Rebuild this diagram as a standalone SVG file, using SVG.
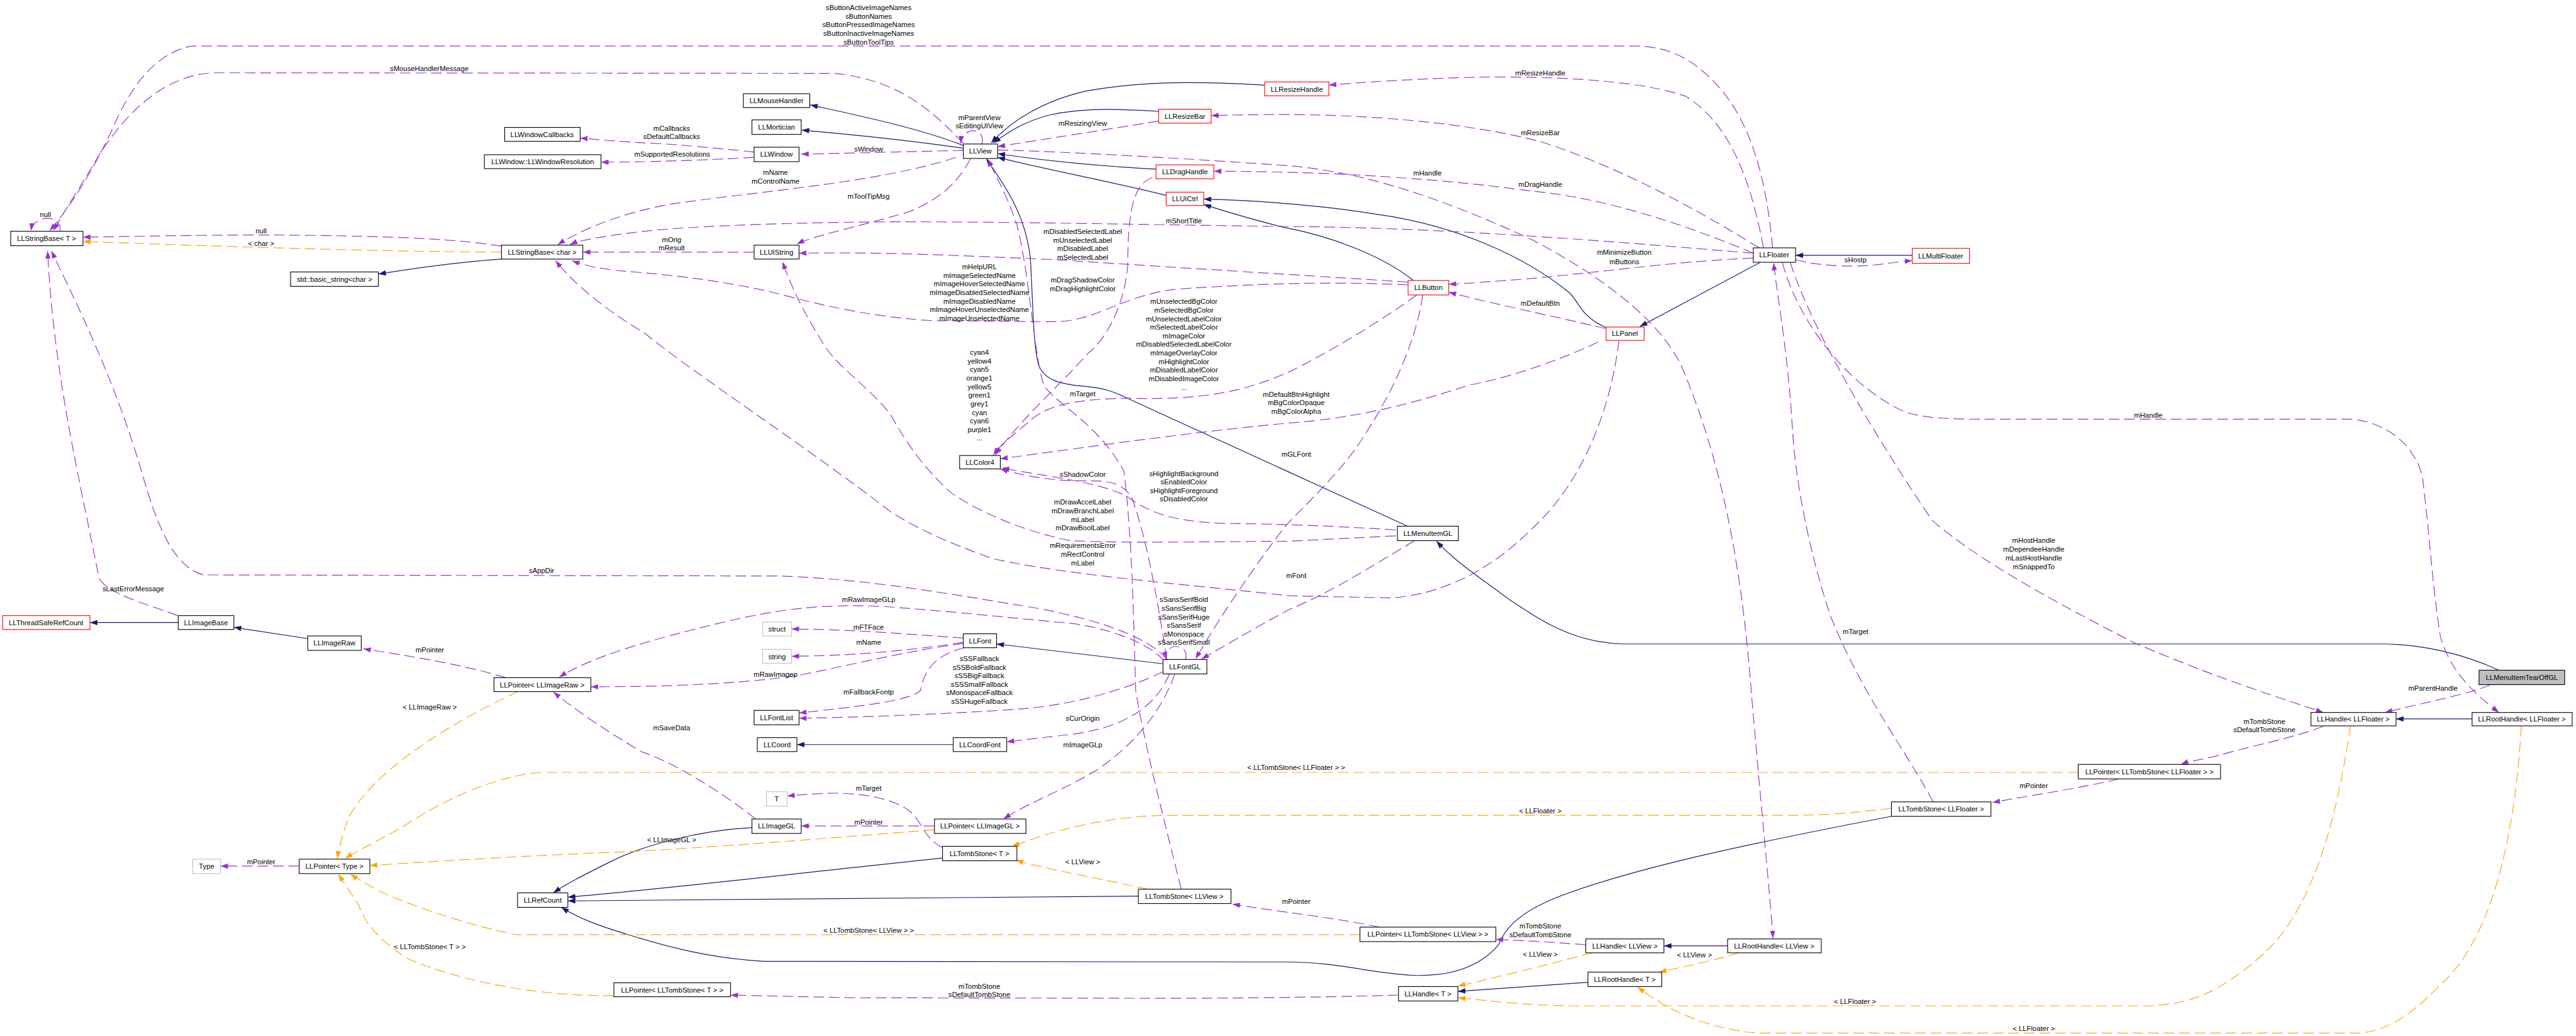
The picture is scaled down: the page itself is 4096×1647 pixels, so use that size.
<svg xmlns="http://www.w3.org/2000/svg" width="4096" height="1647" viewBox="0 0 4096 1647">
<style>
text{font-family:"Liberation Sans",Arial,Helvetica,sans-serif;font-size:13.3px;fill:#000;text-anchor:middle}
.node rect{fill:#fff;stroke:#000;stroke-width:1.3}
.node.red rect{stroke:#ff0000}
.node.grey rect{stroke:#bfbfbf}
.node.cur rect{fill:#bfbfbf}
#edges path{fill:none;stroke-width:1.4}
#edges .inh{stroke:#191970;marker-end:url(#an)}
#edges .use{stroke:#9a32cd;stroke-dasharray:20 9;marker-end:url(#ap)}
#edges .tpl{stroke:#ffa500;stroke-dasharray:20 9;marker-end:url(#ao)}
</style>
<defs>
<marker id="an" markerUnits="userSpaceOnUse" markerWidth="14" markerHeight="10" viewBox="0 0 14 10" refX="14" refY="5" orient="auto"><path d="M0,0 L14,5 L0,10 z" fill="#191970" stroke="none"/></marker>
<marker id="ap" markerUnits="userSpaceOnUse" markerWidth="14" markerHeight="10" viewBox="0 0 14 10" refX="14" refY="5" orient="auto"><path d="M0,0 L14,5 L0,10 z" fill="#9a32cd" stroke="none"/></marker>
<marker id="ao" markerUnits="userSpaceOnUse" markerWidth="14" markerHeight="10" viewBox="0 0 14 10" refX="14" refY="5" orient="auto"><path d="M0,0 L14,5 L0,10 z" fill="#ffa500" stroke="none"/></marker>
</defs>
<rect width="4096" height="1647" fill="#fff"/>
<g transform="scale(0.851)">
<g id="edges">
<!-- inheritance -->
<path class="inh" d="M1800,272 C1720,240 1600,215 1514,196"/>
<path class="inh" d="M1800,277 C1700,262 1600,252 1498,243"/>
<path class="inh" d="M2363,159 C2280,154 2150,148 2030,170 C1950,188 1890,225 1852,267"/>
<path class="inh" d="M2165,208 C2100,204 2030,200 1960,215 C1910,228 1880,250 1856,267"/>
<path class="inh" d="M2160,316 C2050,310 1950,300 1864,287"/>
<path class="inh" d="M2179,365 C2080,340 1960,318 1864,294"/>
<path class="inh" d="M2641,524 C2580,475 2480,440 2400,425 C2340,410 2290,395 2249,382"/>
<path class="inh" d="M3001,612 C2950,590 2950,560 2930,545 C2850,480 2720,420 2570,400 C2480,385 2350,374 2249,372"/>
<path class="inh" d="M3289,490 L3064,610"/>
<path class="inh" d="M3573,477 L3355,477"/>
<path class="inh" d="M2630,983 L2115,748 C2080,730 2060,725 2030,722 C1980,718 1950,710 1940,680 C1930,640 1930,560 1925,480 C1915,400 1880,350 1843,297"/>
<path class="inh" d="M4669,1252 C4600,1220 4520,1203 4449,1203 L3031,1203 C2940,1200 2880,1160 2820,1120 C2760,1075 2720,1050 2684,1011"/>
<path class="inh" d="M2173,1240 L1862,1203"/>
<path class="inh" d="M1781,1391 L1489,1391"/>
<path class="inh" d="M333,1163 L168,1163"/>
<path class="inh" d="M575,1193 L437,1172"/>
<path class="inh" d="M937,484 C850,490 780,500 707,512"/>
<path class="inh" d="M1405,1546 C1300,1552 1200,1580 1140,1610 C1090,1635 1060,1650 1034,1668"/>
<path class="inh" d="M1761,1603 C1500,1630 1250,1660 1061,1676"/>
<path class="inh" d="M2127,1674 L1061,1683"/>
<path class="inh" d="M3534,1525 C3300,1570 3050,1620 2900,1680 C2830,1710 2810,1740 2800,1765 C2770,1800 2720,1825 2640,1822 C2560,1818 2500,1797 2400,1797 L1428,1796 C1330,1790 1250,1770 1180,1748 C1120,1730 1080,1715 1049,1695"/>
<path class="inh" d="M3228,1767 L3109,1767"/>
<path class="inh" d="M2967,1835 L2724,1852"/>
<path class="inh" d="M4619,1343 L4477,1343"/>
<!-- template instantiation -->
<path class="tpl" d="M937,471 C700,470 400,460 155,451"/>
<path class="tpl" d="M968,1292 C820,1360 690,1450 650,1530 C640,1560 633,1585 630,1604"/>
<path class="tpl" d="M1746,1550 C1500,1570 1300,1585 1150,1592 C950,1600 800,1610 691,1617"/>
<path class="tpl" d="M3883,1443 L1010,1443 C920,1450 820,1500 760,1540 C700,1575 665,1590 645,1604"/>
<path class="tpl" d="M2541,1746 L965,1746 C880,1730 760,1690 700,1660 C680,1648 665,1640 655,1633"/>
<path class="tpl" d="M1147,1860 C1000,1862 850,1830 760,1790 C700,1750 680,1720 670,1690 C650,1660 640,1645 632,1633"/>
<path class="tpl" d="M2145,1661 C2050,1640 1960,1625 1898,1607"/>
<path class="tpl" d="M3534,1510 C3450,1520 3400,1523 3350,1523 L2195,1523 C2050,1523 1950,1560 1891,1581"/>
<path class="tpl" d="M2975,1780 C2900,1800 2800,1825 2724,1842"/>
<path class="tpl" d="M3249,1780 C3200,1795 3150,1805 3100,1816"/>
<path class="tpl" d="M4392,1356 C4370,1500 4330,1700 4220,1790 C4150,1850 4100,1875 4017,1879 L2940,1879 C2860,1879 2790,1870 2724,1864"/>
<path class="tpl" d="M4711,1356 C4700,1550 4660,1750 4560,1840 C4500,1900 4460,1925 4410,1930 L3287,1930 C3200,1925 3120,1890 3060,1844"/>
<!-- usage -->
<path class="use" d="M1800,268 C1740,205 1680,150 1560,137 L400,136 C300,140 230,220 185,290 C150,350 122,390 100,431"/>
<path class="use" d="M3312,463 C3300,330 3270,220 3200,150 C3160,110 3120,88 3060,86 L360,86 C300,95 250,150 215,230 C170,330 120,400 93,431"/>
<path class="use" d="M112,432 C118,400 62,400 58,431"/>
<path class="use" d="M937,460 C850,445 700,440 500,439 C350,439 250,442 155,443"/>
<path class="use" d="M332,1150 C280,1130 200,1110 185,1080 C150,900 100,700 89,469"/>
<path class="use" d="M2180,1232 C2140,1180 2000,1145 1900,1130 C1750,1105 1600,1080 1450,1076 L380,1074 C330,1060 300,1000 270,900 C220,720 140,560 96,469"/>
<path class="use" d="M1786,294 C1650,340 1400,360 1300,375 C1200,385 1100,420 1042,457"/>
<path class="use" d="M3276,473 C3000,450 2700,425 2400,423 C2200,421 1800,412 1600,415 C1400,418 1250,425 1180,435 C1120,442 1080,450 1065,457"/>
<path class="use" d="M1409,471 L1089,471"/>
<path class="use" d="M2631,532 C2500,527 2400,527 2200,540 C2100,550 2050,600 1972,601 L1740,599 C1600,590 1500,560 1431,543 C1300,515 1200,510 1150,505 C1110,500 1090,495 1069,487"/>
<path class="use" d="M3025,636 C3010,760 2960,900 2860,990 C2790,1060 2700,1110 2600,1117 L2410,1113 C2200,1090 2000,1075 1856,1044 C1760,1010 1700,980 1663,955 C1500,830 1300,700 1204,622 C1150,590 1080,540 1038,487"/>
<path class="use" d="M2631,527 C2400,512 2200,500 1972,485 C1800,478 1650,470 1493,473"/>
<path class="use" d="M1813,297 C1790,340 1760,370 1700,395 C1600,425 1520,440 1489,456"/>
<path class="use" d="M2608,1001 L2410,1011 C2250,1012 2100,1015 2000,1010 C1900,990 1820,950 1779,922 C1720,870 1690,820 1663,773 C1620,720 1570,690 1540,645 C1500,580 1480,540 1462,489"/>
<path class="use" d="M1800,281 C1700,283 1600,286 1497,288"/>
<path class="use" d="M1409,284 C1350,278 1250,268 1204,267 C1150,264 1110,260 1084,258"/>
<path class="use" d="M1409,294 C1300,300 1200,303 1123,303"/>
<path class="use" d="M1835,269 C1842,236 1798,236 1795,268"/>
<path class="use" d="M2165,226 C2050,245 1950,260 1864,274"/>
<path class="use" d="M3295,463 C3270,330 3230,230 3150,180 C3050,145 2850,140 2700,146 C2600,150 2530,155 2483,159"/>
<path class="use" d="M3287,463 C3200,410 3050,320 2880,265 C2740,228 2550,214 2400,214 C2340,214 2300,215 2263,216"/>
<path class="use" d="M3276,473 C3150,420 3000,370 2863,357 C2700,335 2500,320 2268,320"/>
<path class="use" d="M1864,280 C2000,284 2200,295 2400,309 C2550,320 2700,373 2863,448 C3000,520 3100,600 3140,680 C3200,820 3250,1000 3272,1290 C3290,1500 3305,1650 3313,1753"/>
<path class="use" d="M3276,482 C3100,490 2950,515 2800,525 C2760,528 2730,530 2707,531"/>
<path class="use" d="M3001,614 C2900,590 2800,570 2707,546"/>
<path class="use" d="M3355,485 C3400,498 3470,500 3520,493 C3540,490 3560,488 3573,487"/>
<path class="use" d="M2647,551 C2580,600 2480,660 2410,694 C2330,730 2250,748 2110,744 C2000,745 1950,760 1920,790 C1890,815 1870,830 1856,850"/>
<path class="use" d="M2153,332 C2115,345 2108,400 2107,497 C2100,580 2060,640 2033,660 C1980,720 1900,790 1860,850"/>
<path class="use" d="M2986,639 C2900,680 2800,710 2747,719 C2650,750 2550,780 2400,791 C2200,810 2000,840 1869,857"/>
<path class="use" d="M2608,990 C2500,983 2400,979 2300,978 C2200,976 2150,960 2110,930 C2060,900 1950,890 1872,874"/>
<path class="use" d="M2180,1232 C2160,1100 2140,1000 2115,930 C2090,890 2050,900 2000,898 C1940,895 1900,885 1869,876"/>
<path class="use" d="M2658,551 C2650,620 2610,720 2554,806 C2510,880 2440,940 2400,985 C2350,1050 2280,1150 2234,1231"/>
<path class="use" d="M2643,1010 C2560,1060 2480,1110 2410,1138 C2350,1170 2300,1200 2245,1231"/>
<path class="use" d="M2215,1232 C2225,1200 2170,1200 2180,1231"/>
<path class="use" d="M2175,1235 C2150,1200 2050,1165 1972,1162 C1850,1150 1750,1140 1650,1133 C1500,1125 1400,1150 1300,1175 C1200,1200 1100,1230 1045,1265"/>
<path class="use" d="M1800,1192 C1700,1185 1600,1176 1479,1175"/>
<path class="use" d="M1800,1200 C1700,1215 1600,1225 1479,1226"/>
<path class="use" d="M1800,1202 C1700,1215 1600,1240 1500,1260 C1400,1277 1250,1283 1104,1283"/>
<path class="use" d="M1802,1210 C1740,1225 1725,1260 1720,1290 C1700,1310 1600,1320 1493,1332"/>
<path class="use" d="M2173,1255 C2100,1290 2000,1318 1900,1325 C1750,1335 1600,1340 1493,1342"/>
<path class="use" d="M2185,1259 C2160,1320 2100,1360 2000,1372 C1950,1378 1910,1382 1881,1386"/>
<path class="use" d="M2195,1259 C2170,1330 2120,1390 2050,1438 C1980,1480 1920,1500 1875,1530"/>
<path class="use" d="M1412,1530 C1350,1480 1250,1420 1200,1405 C1140,1370 1080,1330 1034,1293"/>
<path class="use" d="M1746,1543 L1497,1543"/>
<path class="use" d="M1761,1583 C1730,1570 1725,1540 1702,1517 C1670,1490 1600,1480 1547,1482 C1520,1483 1490,1485 1471,1487"/>
<path class="use" d="M945,1266 C860,1240 760,1225 679,1212"/>
<path class="use" d="M559,1618 L412,1618"/>
<path class="use" d="M2613,1859 C2500,1862 2400,1864 2200,1865 L1600,1864 C1500,1862 1420,1860 1365,1859"/>
<path class="use" d="M2963,1765 C2900,1760 2850,1757 2795,1755"/>
<path class="use" d="M4341,1357 C4280,1380 4200,1395 4150,1410 C4120,1418 4090,1422 4075,1428"/>
<path class="use" d="M3959,1455 C3900,1470 3800,1485 3723,1499"/>
<path class="use" d="M2577,1732 C2500,1715 2400,1705 2303,1689"/>
<path class="use" d="M3612,1498 C3560,1400 3480,1300 3420,1150 C3380,1030 3355,900 3349,800 C3340,650 3320,550 3314,491"/>
<path class="use" d="M3330,490 C3360,600 3450,720 3560,770 C3600,782 3650,783 3700,783 L4395,783 C4460,790 4510,830 4526,889 C4540,1000 4545,1100 4560,1190 C4580,1260 4630,1300 4669,1331"/>
<path class="use" d="M3345,490 C3380,600 3480,780 3610,972 C3700,1050 3850,1130 3986,1200 C4150,1270 4250,1300 4341,1331"/>
<path class="use" d="M4653,1279 C4620,1295 4540,1310 4456,1331"/>
<path class="use" d="M2207,1661 C2180,1550 2140,1400 2122,1290 C2118,1150 2115,1000 2100,880 C2050,790 1980,760 1950,720 C1930,650 1925,520 1900,420 C1880,360 1860,330 1846,297"/>
</g>
<g id="labels">
<text x="1623" y="19">sButtonActiveImageNames</text>
<text x="1623" y="35">sButtonNames</text>
<text x="1623" y="51">sButtonPressedImageNames</text>
<text x="1623" y="67">sButtonInactiveImageNames</text>
<text x="1623" y="83">sButtonToolTips</text>
<text x="802" y="133">sMouseHandlerMessage</text>
<text x="85" y="405">null</text>
<text x="488" y="436">null</text>
<text x="488" y="460">&lt; char &gt;</text>
<text x="1830" y="225">mParentView</text>
<text x="1830" y="240">sEditingUIView</text>
<text x="2023" y="235">mResizingView</text>
<text x="1255" y="244">mCallbacks</text>
<text x="1255" y="260">sDefaultCallbacks</text>
<text x="1256" y="293">mSupportedResolutions</text>
<text x="1623" y="283">sWindow</text>
<text x="1449" y="327">mName</text>
<text x="1449" y="343">mControlName</text>
<text x="1623" y="371">mToolTipMsg</text>
<text x="2212" y="417">mShortTitle</text>
<text x="1255" y="452">mOrig</text>
<text x="1255" y="468">mResult</text>
<text x="2023" y="437">mDisabledSelectedLabel</text>
<text x="2023" y="453">mUnselectedLabel</text>
<text x="2023" y="469">mDisabledLabel</text>
<text x="2023" y="485">mSelectedLabel</text>
<text x="1830" y="503">mHelpURL</text>
<text x="1830" y="519">mImageSelectedName</text>
<text x="1830" y="535">mImageHoverSelectedName</text>
<text x="1830" y="551">mImageDisabledSelectedName</text>
<text x="1830" y="567">mImageDisabledName</text>
<text x="1830" y="583">mImageHoverUnselectedName</text>
<text x="1830" y="599">mImageUnselectedName</text>
<text x="2023" y="528">mDragShadowColor</text>
<text x="2023" y="544">mDragHighlightColor</text>
<text x="2212" y="568">mUnselectedBgColor</text>
<text x="2212" y="584">mSelectedBgColor</text>
<text x="2212" y="600">mUnselectedLabelColor</text>
<text x="2212" y="616">mSelectedLabelColor</text>
<text x="2212" y="632">mImageColor</text>
<text x="2212" y="648">mDisabledSelectedLabelColor</text>
<text x="2212" y="664">mImageOverlayColor</text>
<text x="2212" y="680">mHighlightColor</text>
<text x="2212" y="696">mDisabledLabelColor</text>
<text x="2212" y="712">mDisabledImageColor</text>
<text x="2212" y="728">...</text>
<text x="2878" y="141">mResizeHandle</text>
<text x="2878" y="253">mResizeBar</text>
<text x="2667" y="328">mHandle</text>
<text x="2878" y="349">mDragHandle</text>
<text x="3035" y="476">mMinimizeButton</text>
<text x="3035" y="493">mButtons</text>
<text x="3467" y="490">sHostp</text>
<text x="2878" y="571">mDefaultBtn</text>
<text x="1830" y="663">cyan4</text>
<text x="1830" y="679">yellow4</text>
<text x="1830" y="695">cyan5</text>
<text x="1830" y="711">orange1</text>
<text x="1830" y="727">yellow5</text>
<text x="1830" y="743">green1</text>
<text x="1830" y="759">grey1</text>
<text x="1830" y="775">cyan</text>
<text x="1830" y="791">cyan6</text>
<text x="1830" y="807">purple1</text>
<text x="1830" y="823">...</text>
<text x="2023" y="740">mTarget</text>
<text x="2422" y="741">mDefaultBtnHighlight</text>
<text x="2422" y="757">mBgColorOpaque</text>
<text x="2422" y="773">mBgColorAlpha</text>
<text x="2422" y="853">mGLFont</text>
<text x="2023" y="891">sShadowColor</text>
<text x="2212" y="889">sHighlightBackground</text>
<text x="2212" y="905">sEnabledColor</text>
<text x="2212" y="921">sHighlightForeground</text>
<text x="2212" y="937">sDisabledColor</text>
<text x="2023" y="943">mDrawAccelLabel</text>
<text x="2023" y="959">mDrawBranchLabel</text>
<text x="2023" y="975">mLabel</text>
<text x="2023" y="991">mDrawBoolLabel</text>
<text x="2023" y="1023">mRequirementsError</text>
<text x="2023" y="1040">mRectControl</text>
<text x="2023" y="1056">mLabel</text>
<text x="2422" y="1080">mFont</text>
<text x="1012" y="1070">sAppDir</text>
<text x="249" y="1105">sLastErrorMessage</text>
<text x="4014" y="780">mHandle</text>
<text x="3800" y="1014">mHostHandle</text>
<text x="3800" y="1031">mDependeeHandle</text>
<text x="3800" y="1047">mLastHostHandle</text>
<text x="3800" y="1063">mSnappedTo</text>
<text x="3467" y="1184">mTarget</text>
<text x="4546" y="1290">mParentHandle</text>
<text x="1623" y="1125">mRawImageGLp</text>
<text x="1623" y="1176">mFTFace</text>
<text x="1623" y="1205">mName</text>
<text x="1449" y="1264">mRawImagep</text>
<text x="2212" y="1125">sSansSerifBold</text>
<text x="2212" y="1141">sSansSerifBig</text>
<text x="2212" y="1157">sSansSerifHuge</text>
<text x="2212" y="1173">sSansSerif</text>
<text x="2212" y="1189">sMonospace</text>
<text x="2212" y="1205">sSansSerifSmall</text>
<text x="1830" y="1235">sSSFallback</text>
<text x="1830" y="1251">sSSBoldFallback</text>
<text x="1830" y="1267">sSSBigFallback</text>
<text x="1830" y="1283">sSSSmallFallback</text>
<text x="1830" y="1299">sMonospaceFallback</text>
<text x="1830" y="1315">sSSHugeFallback</text>
<text x="1623" y="1297">mFallbackFontp</text>
<text x="803" y="1219">mPointer</text>
<text x="803" y="1325">&lt; LLImageRaw &gt;</text>
<text x="1255" y="1364">mSaveData</text>
<text x="2023" y="1347">sCurOrigin</text>
<text x="2023" y="1396">mImageGLp</text>
<text x="2422" y="1438">&lt; LLTombStone&lt; LLFloater &gt; &gt;</text>
<text x="1623" y="1477">mTarget</text>
<text x="1623" y="1540">mPointer</text>
<text x="1255" y="1573">&lt; LLImageGL &gt;</text>
<text x="2023" y="1615">&lt; LLView &gt;</text>
<text x="2878" y="1519">&lt; LLFloater &gt;</text>
<text x="3800" y="1472">mPointer</text>
<text x="4231" y="1352">mTombStone</text>
<text x="4231" y="1368">sDefaultTombStone</text>
<text x="488" y="1615">mPointer</text>
<text x="2422" y="1689">mPointer</text>
<text x="1623" y="1743">&lt; LLTombStone&lt; LLView &gt; &gt;</text>
<text x="803" y="1773">&lt; LLTombStone&lt; T &gt; &gt;</text>
<text x="2878" y="1735">mTombStone</text>
<text x="2878" y="1751">sDefaultTombStone</text>
<text x="2878" y="1787">&lt; LLView &gt;</text>
<text x="3166" y="1788">&lt; LLView &gt;</text>
<text x="1830" y="1847">mTombStone</text>
<text x="1830" y="1863">sDefaultTombStone</text>
<text x="3466" y="1876">&lt; LLFloater &gt;</text>
<text x="3800" y="1926">&lt; LLFloater &gt;</text>
</g>
<g id="node-LLMenuItemTearOffGL" class="node cur"><rect x="4632" y="1252" width="160" height="27"/><text x="4712" y="1270">LLMenuItemTearOffGL</text></g>
<g id="node-LLMenuItemGL" class="node"><rect x="2611" y="983" width="114" height="27"/><text x="2668" y="1001">LLMenuItemGL</text></g>
<g id="node-LLView" class="node"><rect x="1800" y="269" width="64" height="27"/><text x="1832" y="287">LLView</text></g>
<g id="node-LLMouseHandler" class="node"><rect x="1389" y="175" width="124" height="26"/><text x="1451" y="193">LLMouseHandler</text></g>
<g id="node-LLMortician" class="node"><rect x="1405" y="224" width="92" height="27"/><text x="1451" y="242">LLMortician</text></g>
<g id="node-LLWindow" class="node"><rect x="1409" y="275" width="84" height="27"/><text x="1451" y="293">LLWindow</text></g>
<g id="node-LLWindowCallbacks" class="node"><rect x="943" y="238" width="141" height="26"/><text x="1013" y="256">LLWindowCallbacks</text></g>
<g id="node-LLWindowResolution" class="node"><rect x="905" y="289" width="218" height="26"/><text x="1014" y="307">LLWindow::LLWindowResolution</text></g>
<g id="node-LLStringBaseT" class="node"><rect x="20" y="432" width="135" height="27"/><text x="87" y="450">LLStringBase&lt; T &gt;</text></g>
<g id="node-LLStringBaseChar" class="node"><rect x="937" y="458" width="152" height="26"/><text x="1013" y="476">LLStringBase&lt; char &gt;</text></g>
<g id="node-basic_string" class="node"><rect x="543" y="508" width="164" height="27"/><text x="625" y="526">std::basic_string&lt;char &gt;</text></g>
<g id="node-LLUIString" class="node"><rect x="1409" y="458" width="84" height="26"/><text x="1451" y="476">LLUIString</text></g>
<g id="node-LLResizeHandle" class="node red"><rect x="2363" y="153" width="120" height="26"/><text x="2423" y="171">LLResizeHandle</text></g>
<g id="node-LLResizeBar" class="node red"><rect x="2165" y="204" width="98" height="26"/><text x="2214" y="222">LLResizeBar</text></g>
<g id="node-LLDragHandle" class="node red"><rect x="2160" y="308" width="108" height="26"/><text x="2214" y="326">LLDragHandle</text></g>
<g id="node-LLUICtrl" class="node red"><rect x="2179" y="359" width="70" height="25"/><text x="2214" y="376">LLUICtrl</text></g>
<g id="node-LLButton" class="node red"><rect x="2631" y="524" width="76" height="27"/><text x="2669" y="542">LLButton</text></g>
<g id="node-LLPanel" class="node red"><rect x="3001" y="611" width="71" height="25"/><text x="3036" y="628">LLPanel</text></g>
<g id="node-LLFloater" class="node"><rect x="3276" y="463" width="79" height="27"/><text x="3315" y="481">LLFloater</text></g>
<g id="node-LLMultiFloater" class="node red"><rect x="3573" y="464" width="107" height="28"/><text x="3626" y="483">LLMultiFloater</text></g>
<g id="node-LLColor4" class="node"><rect x="1793" y="851" width="76" height="25"/><text x="1831" y="868">LLColor4</text></g>
<g id="node-LLFontGL" class="node"><rect x="2173" y="1232" width="82" height="27"/><text x="2214" y="1250">LLFontGL</text></g>
<g id="node-LLFont" class="node"><rect x="1800" y="1184" width="62" height="26"/><text x="1831" y="1202">LLFont</text></g>
<g id="node-struct" class="node grey"><rect x="1425" y="1162" width="54" height="26"/><text x="1452" y="1180">struct</text></g>
<g id="node-string" class="node grey"><rect x="1425" y="1213" width="54" height="26"/><text x="1452" y="1231">string</text></g>
<g id="node-LLFontList" class="node"><rect x="1409" y="1327" width="84" height="27"/><text x="1451" y="1345">LLFontList</text></g>
<g id="node-LLCoord" class="node"><rect x="1415" y="1378" width="74" height="26"/><text x="1452" y="1396">LLCoord</text></g>
<g id="node-LLCoordFont" class="node"><rect x="1781" y="1378" width="100" height="26"/><text x="1831" y="1396">LLCoordFont</text></g>
<g id="node-T" class="node grey"><rect x="1432" y="1479" width="39" height="27"/><text x="1451" y="1497">T</text></g>
<g id="node-LLImageGL" class="node"><rect x="1405" y="1530" width="92" height="27"/><text x="1451" y="1548">LLImageGL</text></g>
<g id="node-LLPointerLLImageGL" class="node"><rect x="1746" y="1530" width="171" height="27"/><text x="1831" y="1548">LLPointer&lt; LLImageGL &gt;</text></g>
<g id="node-LLTombStoneT" class="node"><rect x="1761" y="1581" width="139" height="27"/><text x="1830" y="1599">LLTombStone&lt; T &gt;</text></g>
<g id="node-LLTombStoneLLView" class="node"><rect x="2127" y="1661" width="173" height="27"/><text x="2213" y="1679">LLTombStone&lt; LLView &gt;</text></g>
<g id="node-LLPointerTombStoneT" class="node"><rect x="1147" y="1836" width="218" height="26"/><text x="1256" y="1854">LLPointer&lt; LLTombStone&lt; T &gt; &gt;</text></g>
<g id="node-LLRefCount" class="node"><rect x="967" y="1668" width="94" height="27"/><text x="1014" y="1686">LLRefCount</text></g>
<g id="node-Type" class="node grey"><rect x="360" y="1605" width="52" height="27"/><text x="386" y="1623">Type</text></g>
<g id="node-LLPointerType" class="node"><rect x="559" y="1605" width="132" height="27"/><text x="625" y="1623">LLPointer&lt; Type &gt;</text></g>
<g id="node-LLPointerLLImageRaw" class="node"><rect x="923" y="1266" width="181" height="26"/><text x="1013" y="1284">LLPointer&lt; LLImageRaw &gt;</text></g>
<g id="node-LLImageRaw" class="node"><rect x="575" y="1188" width="100" height="27"/><text x="625" y="1206">LLImageRaw</text></g>
<g id="node-LLImageBase" class="node"><rect x="333" y="1150" width="104" height="26"/><text x="385" y="1168">LLImageBase</text></g>
<g id="node-LLThreadSafeRefCount" class="node red"><rect x="5" y="1150" width="163" height="26"/><text x="86" y="1168">LLThreadSafeRefCount</text></g>
<g id="node-LLTombStoneLLFloater" class="node"><rect x="3534" y="1498" width="186" height="27"/><text x="3627" y="1516">LLTombStone&lt; LLFloater &gt;</text></g>
<g id="node-LLPointerTombStoneLLView" class="node"><rect x="2541" y="1732" width="254" height="27"/><text x="2668" y="1750">LLPointer&lt; LLTombStone&lt; LLView &gt; &gt;</text></g>
<g id="node-LLHandleLLView" class="node"><rect x="2963" y="1754" width="146" height="26"/><text x="3036" y="1772">LLHandle&lt; LLView &gt;</text></g>
<g id="node-LLRootHandleLLView" class="node"><rect x="3228" y="1754" width="175" height="26"/><text x="3315" y="1772">LLRootHandle&lt; LLView &gt;</text></g>
<g id="node-LLRootHandleT" class="node"><rect x="2967" y="1816" width="138" height="27"/><text x="3036" y="1834">LLRootHandle&lt; T &gt;</text></g>
<g id="node-LLHandleT" class="node"><rect x="2613" y="1843" width="111" height="27"/><text x="2668" y="1861">LLHandle&lt; T &gt;</text></g>
<g id="node-LLHandleLLFloater" class="node"><rect x="4318" y="1331" width="159" height="25"/><text x="4397" y="1348">LLHandle&lt; LLFloater &gt;</text></g>
<g id="node-LLRootHandleLLFloater" class="node"><rect x="4619" y="1331" width="187" height="25"/><text x="4712" y="1348">LLRootHandle&lt; LLFloater &gt;</text></g>
<g id="node-LLPointerTombStoneLLFloater" class="node"><rect x="3883" y="1428" width="266" height="27"/><text x="4016" y="1446">LLPointer&lt; LLTombStone&lt; LLFloater &gt; &gt;</text></g>
</g>
</svg>
